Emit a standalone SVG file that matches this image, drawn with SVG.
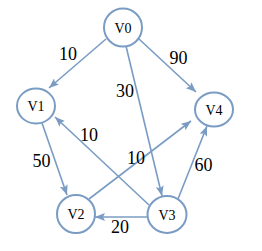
<svg xmlns="http://www.w3.org/2000/svg" width="262" height="251" viewBox="0 0 262 251">
<style>
.n{fill:#fff;stroke:#7A9CC4;stroke-width:2}
.e{stroke:#7A9CC4;stroke-width:1.6;fill:none;marker-end:url(#a)}
.t{font-family:"Liberation Serif",serif;font-size:14px;text-anchor:middle;fill:#000}
.w{font-family:"Liberation Serif",serif;font-size:18px;text-anchor:middle;fill:#000}
</style>
<defs>
<marker id="a" viewBox="0 0 10 8" refX="10" refY="4" markerWidth="10" markerHeight="8" markerUnits="userSpaceOnUse" orient="auto">
<path d="M0,0L10,4L0,8L2,4z" fill="#7A9CC4"/>
</marker>
</defs>
<g id="edges">
<line class="e" x1="106" y1="39" x2="49" y2="88"/>
<line class="e" x1="139" y1="39" x2="196" y2="92"/>
<line class="e" x1="126" y1="46" x2="162" y2="196"/>
<line class="e" x1="42" y1="123" x2="67" y2="195"/>
<line class="e" x1="149" y1="205" x2="55" y2="117"/>
<line class="e" x1="89" y1="199" x2="191" y2="121"/>
<line class="e" x1="178" y1="199" x2="207" y2="126"/>
<line class="e" x1="147" y1="217" x2="95" y2="217"/>
</g>
<g id="labels">
<text class="w" x="68" y="60">10</text>
<text class="w" x="178.5" y="64">90</text>
<text class="w" x="125" y="97">30</text>
<text class="w" x="89" y="141">10</text>
<text class="w" x="41.5" y="167">50</text>
<text class="w" x="136" y="164">10</text>
<text class="w" x="203.5" y="171">60</text>
<text class="w" x="120" y="233">20</text>
</g>
<g id="V0"><ellipse class="n" cx="123" cy="27.5" rx="19" ry="19"/><text class="t" x="123" y="32.5">V0</text></g>
<g id="V1"><ellipse class="n" cx="36" cy="106" rx="19" ry="17.5"/><text class="t" x="36" y="111">V1</text></g>
<g id="V4"><ellipse class="n" cx="214" cy="109.5" rx="19" ry="17"/><text class="t" x="214" y="114.5">V4</text></g>
<g id="V2"><ellipse class="n" cx="76" cy="214" rx="19" ry="19"/><text class="t" x="76" y="219">V2</text></g>
<g id="V3"><ellipse class="n" cx="167" cy="214.5" rx="19.5" ry="18.5"/><text class="t" x="167" y="219.5">V3</text></g>
</svg>
